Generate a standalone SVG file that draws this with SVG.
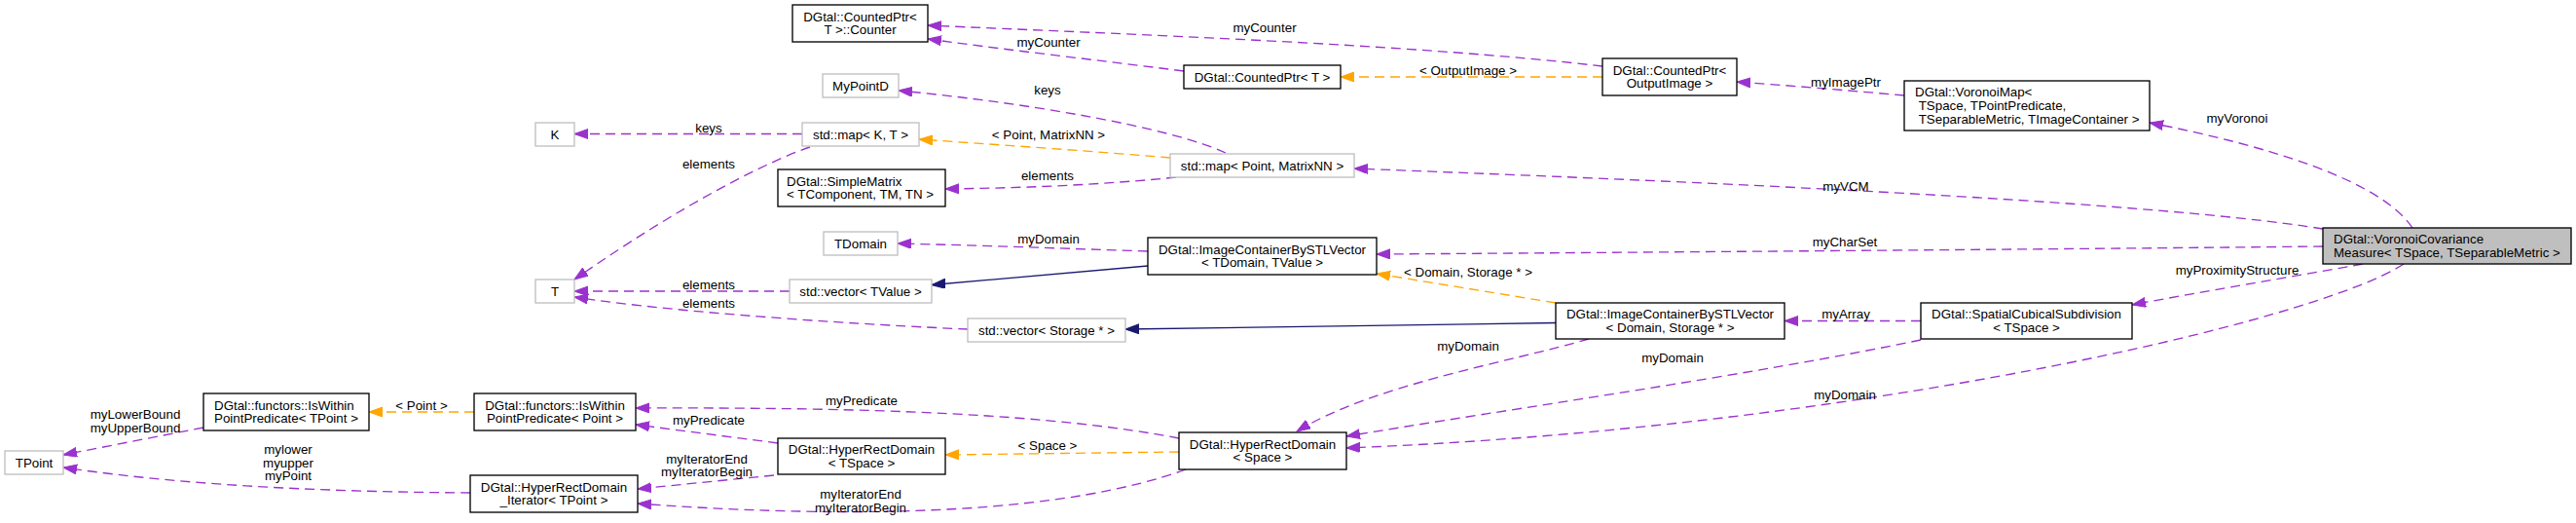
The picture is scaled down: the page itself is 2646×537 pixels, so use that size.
<svg xmlns="http://www.w3.org/2000/svg" width="2646" height="537" viewBox="0 0 2646 537">
<style>
text{font-family:"Liberation Sans",Arial,Helvetica,sans-serif;font-size:13.33px;fill:#000}
.c{text-anchor:middle}
.nb{fill:#fff;stroke:#000;stroke-width:1.33}
.ng{fill:#fff;stroke:#bfbfbf;stroke-width:1.33}
.nf{fill:#bfbfbf;stroke:#000;stroke-width:1.33}
.ep{fill:none;stroke:#9a32cd;stroke-width:1.33;stroke-dasharray:10,6;marker-end:url(#ap)}
.eo{fill:none;stroke:#ffa500;stroke-width:1.33;stroke-dasharray:10,6;marker-end:url(#ao)}
.en{fill:none;stroke:#191970;stroke-width:1.33;marker-end:url(#an)}
</style>
<defs>
<marker id="ap" markerUnits="userSpaceOnUse" markerWidth="16" markerHeight="12" refX="14" refY="5" orient="auto"><path d="M0,0 L14,5 L0,10 Z" fill="#9a32cd" stroke="#9a32cd"/></marker>
<marker id="ao" markerUnits="userSpaceOnUse" markerWidth="16" markerHeight="12" refX="14" refY="5" orient="auto"><path d="M0,0 L14,5 L0,10 Z" fill="#ffa500" stroke="#ffa500"/></marker>
<marker id="an" markerUnits="userSpaceOnUse" markerWidth="16" markerHeight="12" refX="14" refY="5" orient="auto"><path d="M0,0 L14,5 L0,10 Z" fill="#191970" stroke="#191970"/></marker>
</defs>
<rect width="2646" height="537" fill="#fff"/>
<g id="connectors">
<path class="ep" d="M2478,234 C2445,185 2330,150 2208,126"/>
<text class="c" x="2298" y="126">myVoronoi</text>
<path class="ep" d="M1956,98 C1900,93 1840,88 1784,84"/>
<text class="c" x="1896" y="89">myImagePtr</text>
<path class="ep" d="M1646,68 C1450,45 1150,35 953,26"/>
<text class="c" x="1299" y="33">myCounter</text>
<path class="eo" d="M1646,79 L1377,79"/>
<text class="c" x="1508" y="77">&lt; OutputImage &gt;</text>
<path class="ep" d="M1216,73 C1130,62 1040,52 953,40"/>
<text class="c" x="1077" y="48">myCounter</text>
<path class="ep" d="M1259,157 C1200,130 1050,105 923,93"/>
<text class="c" x="1076" y="97">keys</text>
<path class="eo" d="M1202,162 C1120,155 1030,149 944,143"/>
<text class="c" x="1077" y="143">&lt; Point, MatrixNN &gt;</text>
<path class="ep" d="M1208,182 C1130,190 1050,193 971,194"/>
<text class="c" x="1076" y="185">elements</text>
<path class="ep" d="M2386,235 C2200,205 1700,185 1391,173"/>
<text class="c" x="1896" y="196">myVCM</text>
<path class="ep" d="M2386,253 C2100,256 1700,259 1414,261"/>
<text class="c" x="1895" y="253">myCharSet</text>
<path class="ep" d="M1179,258 C1090,255 1010,252 922,250"/>
<text class="c" x="1077" y="250">myDomain</text>
<path class="en" d="M1179,273 L957,292.5"/>
<path class="ep" d="M811,299 L590,299"/>
<text class="c" x="728" y="297">elements</text>
<path class="ep" d="M994,338 C900,334 700,322 590,305"/>
<text class="c" x="728" y="316">elements</text>
<path class="ep" d="M824,137.5 L590,137.5"/>
<text class="c" x="728" y="136">keys</text>
<path class="ep" d="M832,151 C790,165 700,210 590,287"/>
<text class="c" x="728" y="173">elements</text>
<path class="eo" d="M1598,311 L1414,281"/>
<text class="c" x="1508" y="284">&lt; Domain, Storage * &gt;</text>
<path class="en" d="M1598,331.5 L1156,338"/>
<path class="ep" d="M1973,329.5 L1833,329.5"/>
<text class="c" x="1896" y="327">myArray</text>
<path class="ep" d="M2427,271 C2350,285 2270,298 2190,313"/>
<text class="c" x="2298" y="282">myProximityStructure</text>
<path class="ep" d="M1632,348 C1550,372 1410,395 1332,443"/>
<text class="c" x="1508" y="360">myDomain</text>
<path class="ep" d="M1973,349 C1800,385 1550,420 1383,448"/>
<text class="c" x="1718" y="372">myDomain</text>
<path class="ep" d="M2469,271 C2380,330 1900,440 1383,460"/>
<text class="c" x="1895" y="410">myDomain</text>
<path class="ep" d="M1211,450 C1080,425 900,418 653,419"/>
<text class="c" x="885" y="416">myPredicate</text>
<path class="eo" d="M1211,464 L971,467"/>
<text class="c" x="1076" y="462">&lt; Space &gt;</text>
<path class="ep" d="M1218,482 C1100,525 900,535 655,517"/>
<text class="c" x="884" y="512">myIteratorEnd</text>
<text class="c" x="884" y="525.5">myIteratorBegin</text>
<path class="ep" d="M799,455 L653,436"/>
<text class="c" x="728" y="436">myPredicate</text>
<path class="ep" d="M795,488 L655,502"/>
<text class="c" x="726" y="475.5">myIteratorEnd</text>
<text class="c" x="726" y="489">myIteratorBegin</text>
<path class="eo" d="M487,423 L379,423"/>
<text class="c" x="433" y="421">&lt; Point &gt;</text>
<path class="ep" d="M209,439 L65,467"/>
<text class="c" x="139" y="430">myLowerBound</text>
<text class="c" x="139" y="444">myUpperBound</text>
<path class="ep" d="M483,506 C350,505 200,500 65,480"/>
<text class="c" x="296" y="466">mylower</text>
<text class="c" x="296" y="479.5">myupper</text>
<text class="c" x="296" y="493">myPoint</text>
</g>
<g id="n_counter"><rect class="nb" x="814" y="5" width="139" height="38"/><text class="c" x="883.5" y="21.5">DGtal::CountedPtr&lt;</text><text class="c" x="883.5" y="35.2">T &gt;::Counter</text></g>
<g id="n_mypointd"><rect class="ng" x="845" y="76" width="78" height="24"/><text class="c" x="884" y="92.5">MyPointD</text></g>
<g id="n_K"><rect class="ng" x="550" y="126" width="40" height="24"/><text class="c" x="570" y="142.5">K</text></g>
<g id="n_mapKT"><rect class="ng" x="824" y="126" width="120" height="24"/><text class="c" x="884" y="142.5">std::map&lt; K, T &gt;</text></g>
<g id="n_simplematrix"><rect class="nb" x="799" y="174" width="172" height="38"/><text x="808" y="190.5">DGtal::SimpleMatrix</text><text x="808" y="204.2">&lt; TComponent, TM, TN &gt;</text></g>
<g id="n_tdomain"><rect class="ng" x="846" y="238" width="76" height="24"/><text class="c" x="884" y="254.5">TDomain</text></g>
<g id="n_T"><rect class="ng" x="550" y="287" width="40" height="24"/><text class="c" x="570" y="303.5">T</text></g>
<g id="n_countedT"><rect class="nb" x="1216" y="67" width="161" height="24"/><text class="c" x="1296.5" y="83.5">DGtal::CountedPtr&lt; T &gt;</text></g>
<g id="n_mapPM"><rect class="ng" x="1202" y="158" width="189" height="24"/><text class="c" x="1296.5" y="174.5">std::map&lt; Point, MatrixNN &gt;</text></g>
<g id="n_icTD"><rect class="nb" x="1179" y="244" width="235" height="38"/><text class="c" x="1296.5" y="260.5">DGtal::ImageContainerBySTLVector</text><text class="c" x="1296.5" y="274.2">&lt; TDomain, TValue &gt;</text></g>
<g id="n_countedOI"><rect class="nb" x="1646" y="60" width="138" height="38"/><text class="c" x="1715" y="76.5">DGtal::CountedPtr&lt;</text><text class="c" x="1715" y="90.2">OutputImage &gt;</text></g>
<g id="n_voronoimap"><rect class="nb" x="1956" y="83" width="252" height="51"/><text x="1967" y="99.3">DGtal::VoronoiMap&lt;</text><text x="1970.7" y="113">TSpace, TPointPredicate,</text><text x="1970.7" y="126.7">TSeparableMetric, TImageContainer &gt;</text></g>
<g id="n_vcm"><rect class="nf" x="2386" y="234" width="255" height="37"/><text x="2397" y="250">DGtal::VoronoiCovariance</text><text x="2397" y="263.5">Measure&lt; TSpace, TSeparableMetric &gt;</text></g>
<g id="n_vecTV"><rect class="ng" x="811" y="287" width="146" height="24"/><text class="c" x="884" y="303.5">std::vector&lt; TValue &gt;</text></g>
<g id="n_vecS"><rect class="ng" x="994" y="327" width="162" height="24"/><text class="c" x="1075" y="343.5">std::vector&lt; Storage * &gt;</text></g>
<g id="n_icDS"><rect class="nb" x="1598" y="311" width="235" height="37"/><text class="c" x="1715.5" y="327">DGtal::ImageContainerBySTLVector</text><text class="c" x="1715.5" y="340.5">&lt; Domain, Storage * &gt;</text></g>
<g id="n_scs"><rect class="nb" x="1973" y="311" width="217" height="37"/><text class="c" x="2081.5" y="327">DGtal::SpatialCubicalSubdivision</text><text class="c" x="2081.5" y="340.5">&lt; TSpace &gt;</text></g>
<g id="n_hrdS"><rect class="nb" x="1211" y="444" width="172" height="38"/><text class="c" x="1297" y="460.5">DGtal::HyperRectDomain</text><text class="c" x="1297" y="474.2">&lt; Space &gt;</text></g>
<g id="n_hrdT"><rect class="nb" x="799" y="450" width="172" height="37"/><text class="c" x="885" y="466">DGtal::HyperRectDomain</text><text class="c" x="885" y="479.5">&lt; TSpace &gt;</text></g>
<g id="n_iswP"><rect class="nb" x="487" y="404" width="166" height="38"/><text class="c" x="570" y="420.5">DGtal::functors::IsWithin</text><text class="c" x="570" y="434.2">PointPredicate&lt; Point &gt;</text></g>
<g id="n_iswT"><rect class="nb" x="209" y="404" width="170" height="38"/><text x="220" y="420.5">DGtal::functors::IsWithin</text><text x="220" y="434.2">PointPredicate&lt; TPoint &gt;</text></g>
<g id="n_tpoint"><rect class="ng" x="5" y="463" width="60" height="24"/><text class="c" x="35" y="479.5">TPoint</text></g>
<g id="n_iter"><rect class="nb" x="483" y="488" width="172" height="38"/><text class="c" x="569" y="504.5">DGtal::HyperRectDomain</text><text class="c" x="569" y="518.2">_Iterator&lt; TPoint &gt;</text></g>
</svg>
